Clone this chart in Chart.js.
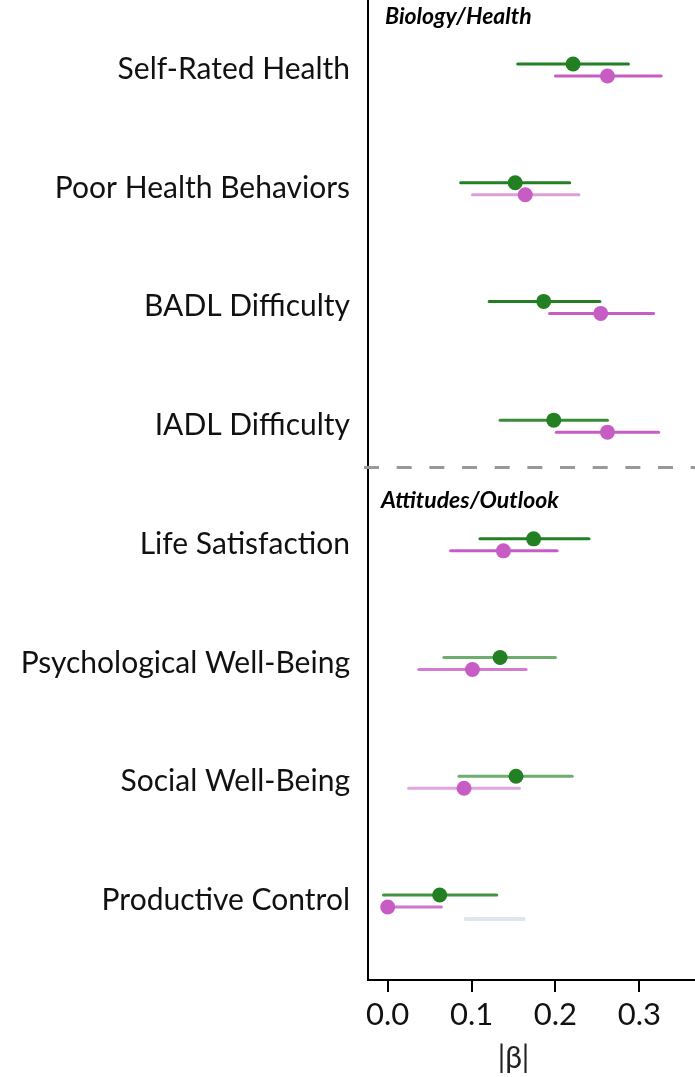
<!DOCTYPE html>
<html>
<head>
<meta charset="utf-8">
<script src="https://cdn.jsdelivr.net/npm/chart.js@4.4.1/dist/chart.umd.min.js"></script>
<style>
  html,body{margin:0;padding:0;background:#fff;}
  #wrap{width:695px;height:1077px;position:relative;}
</style>
</head>
<body>
<div id="wrap"><canvas id="c" width="695" height="1077"></canvas></div>
<script>
// ---------- data ----------
const categories = ["Self-Rated Health","Poor Health Behaviors","BADL Difficulty","IADL Difficulty",
  "Life Satisfaction","Psychological Well-Being","Social Well-Being","Productive Control"];
const sectionTitles = ["Biology/Health","Attitudes/Outlook"];
// green series
const greenEst = [0.221,0.152,0.186,0.198,0.174,0.134,0.153,0.062];
const greenLo  = [0.155,0.087,0.121,0.134,0.110,0.067,0.085,-0.005];
const greenHi  = [0.287,0.217,0.253,0.262,0.240,0.200,0.220,0.130];
// magenta series
const pinkEst = [0.262,0.164,0.254,0.262,0.138,0.101,0.091,0.000];
const pinkLo  = [0.200,0.101,0.193,0.201,0.075,0.037,0.025,0.000];
const pinkHi  = [0.326,0.228,0.317,0.323,0.202,0.165,0.157,0.064];
// grey reference interval (only Productive Control)
const greyLo = [null,null,null,null,null,null,null,0.093];
const greyHi = [null,null,null,null,null,null,null,0.162];
const xTicks = [0.0,0.1,0.2,0.3];

// ---------- styling ----------
const FONT = "Lato";
const GREEN = "34,128,34";
const PINK = "199,93,196";
const GREY = "221,230,238";
const greenAlpha = [1,1,1,0.9,1,0.65,0.65,0.85];
const pinkAlpha  = [1,0.6,1,1,1,0.8,0.55,0.85];
const offsets = {green:0, pink:0.101, grey:0.202};
const labelShift = 0.045;
const dividerAt = 3.40;

const datasets = [];
function addIntervals(lo, hi, rgb, alpha, off, w){
  categories.forEach((c,i)=>{
    if(lo[i]===null) return;
    datasets.push({type:'line', data:[{x:lo[i],y:i+off},{x:hi[i],y:i+off}],
      borderColor:`rgba(${rgb},${alpha?alpha[i]:1})`, borderWidth:w, borderCapStyle:'round',
      pointRadius:0, order:2, clip:false});
  });
}
addIntervals(greyLo, greyHi, GREY, null, offsets.grey, 4);
addIntervals(greenLo, greenHi, GREEN, greenAlpha, offsets.green, 3);
addIntervals(pinkLo, pinkHi, PINK, pinkAlpha, offsets.pink, 3);
datasets.push({type:'scatter', data:greenEst.map((v,i)=>({x:v,y:i+offsets.green})),
  backgroundColor:`rgb(${GREEN})`, borderWidth:0, pointRadius:7.5, order:0, clip:false});
datasets.push({type:'scatter', data:pinkEst.map((v,i)=>({x:v,y:i+offsets.pink})),
  backgroundColor:`rgb(${PINK})`, borderWidth:0, pointRadius:7.5, order:0, clip:false});

const overlay = {
  id:'overlay',
  beforeDatasetsDraw(chart){
    const {ctx, chartArea, scales:{x,y}} = chart;
    const py = y.getPixelForValue(dividerAt);
    ctx.save();
    ctx.strokeStyle = '#999';
    ctx.lineWidth = 3;
    ctx.setLineDash([15,17.67]);
    ctx.beginPath();
    ctx.moveTo(chartArea.left-4, py);
    ctx.lineTo(chartArea.right, py);
    ctx.stroke();
    ctx.restore();
  },
  afterDraw(chart){
    const {ctx, chartArea, scales:{x,y}} = chart;
    ctx.save();
    ctx.fillStyle = '#000';
    ctx.font = `italic bold 23px ${FONT}`;
    ctx.textBaseline = 'middle';
    ctx.textAlign = 'left';
    ctx.fillText(sectionTitles[0], chartArea.left+17, y.getPixelForValue(-0.40));
    ctx.fillText(sectionTitles[1], chartArea.left+13, y.getPixelForValue(3.68));
    // axis title
    ctx.font = `30px ${FONT}`;
    ctx.textAlign = 'center';
    ctx.fillStyle = '#222';
    ctx.fillText('|β|', x.getPixelForValue(0.15), 1058);
    ctx.restore();
  }
};

new Chart(document.getElementById('c'), {
  data:{datasets},
  options:{
    responsive:false, animation:false,
    layout:{padding:0, autoPadding:false},
    plugins:{legend:{display:false}, tooltip:{enabled:false}},
    scales:{
      x:{type:'linear', min:-0.0235, max:0.3664,
        afterBuildTicks:(s)=>{ s.ticks = xTicks.map(v=>({value:v})); },
        afterFit:(s)=>{ s.height = 97; s.paddingLeft = 0; s.paddingRight = 0; },
        grid:{drawOnChartArea:false, drawTicks:true, tickLength:12, color:'#000', lineWidth:2},
        border:{display:true, color:'#000', width:2},
        ticks:{padding:4, color:'#111', font:{family:FONT, size:31}, maxRotation:0,
          callback:(v)=>Number(v).toFixed(1)}
      },
      y:{type:'linear', reverse:true, min:-0.539, max:7.716,
        afterBuildTicks:(s)=>{ s.ticks = categories.map((c,i)=>({value:i+labelShift})); },
        afterFit:(s)=>{ s.width = 368; s.paddingTop = 0; s.paddingBottom = 0; },
        grid:{drawOnChartArea:false, drawTicks:false},
        border:{display:true, color:'#000', width:2},
        ticks:{padding:18, color:'#111', font:{family:FONT, size:30},
          callback:(v,idx)=>categories[idx]}
      }
    }
  },
  plugins:[overlay]
});
</script>
</body>
</html>
